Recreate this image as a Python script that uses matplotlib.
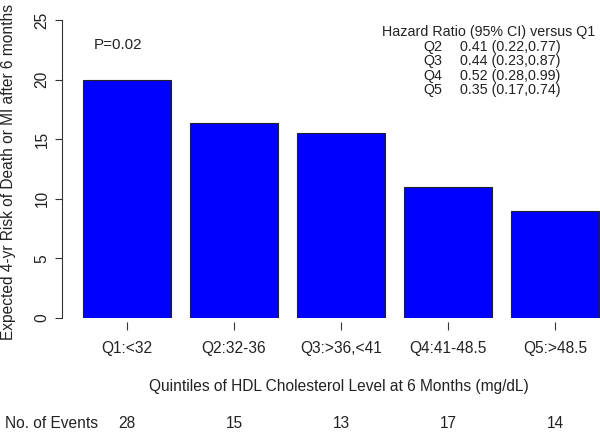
import matplotlib
matplotlib.use("Agg")
import matplotlib.pyplot as plt

plt.rcParams["font.family"] = ["Liberation Sans", "DejaVu Sans"]

quintiles = ["Q1:<32", "Q2:32-36", "Q3:>36,<41", "Q4:41-48.5", "Q5:>48.5"]
risk = [20.0, 16.4, 15.5, 11.0, 9.0]
events = [28, 15, 13, 17, 14]
hr_labels = ["Q2", "Q3", "Q4", "Q5"]
hr_text = ["0.41 (0.22,0.77)", "0.44 (0.23,0.87)", "0.52 (0.28,0.99)", "0.35 (0.17,0.74)"]
y_ticks = [0, 5, 10, 15, 20, 25]

W, H = 600, 432
TXT = "#222222"
FS = 11.2


def fx(px):
    return px / W


def fy(py):
    return 1 - py / H


fig = plt.figure(figsize=(6, 4.32), dpi=100)
# axes placed in pixel terms to mimic the R base-graphics layout
ax = fig.add_axes([fx(62), fy(318), (600 - 62) / W, (318 - 20) / H])

x = list(range(len(quintiles)))
ax.bar(x, risk, width=0.83, color="#0000FF", edgecolor="#222222", linewidth=0.8)
ax.set_xlim(-0.607, 4.42)
ax.set_ylim(0, 25)

for s in ["top", "right", "bottom"]:
    ax.spines[s].set_visible(False)
ax.spines["bottom"].set_position(("outward", 3))
ax.spines["left"].set_color("#333333")
ax.spines["left"].set_bounds(0, 25)

ax.set_yticks(y_ticks)
ax.set_yticklabels([str(t) for t in y_ticks], rotation=90, va="center", fontsize=FS, color=TXT)
ax.tick_params(axis="y", length=5, width=0.8, color="#333333", pad=4)

ax.set_xticks(x)
ax.set_xticklabels(quintiles, fontsize=FS, color=TXT)
ax.tick_params(axis="x", length=5.8, width=0.8, color="#333333", pad=8)

ax.set_ylabel("Expected 4-yr Risk of Death or MI after 6 months", fontsize=FS, color=TXT)
ax.yaxis.set_label_coords(-46 / 538, (318 - 172) / 298)

fig.text(fx(118), fy(45), "P=0.02", ha="center", va="center", fontsize=10.9, color=TXT)

fig.text(fx(382), fy(32), "Hazard Ratio (95% CI) versus Q1", ha="left", va="center", fontsize=10.3, color=TXT)
for i, (q, t) in enumerate(zip(hr_labels, hr_text)):
    yy = 32 + 14.6 * (i + 1)
    fig.text(fx(423), fy(yy), q, ha="left", va="center", fontsize=10.3, color=TXT)
    fig.text(fx(460), fy(yy), t, ha="left", va="center", fontsize=10.3, color=TXT)

fig.text(fx(339), fy(386), "Quintiles of HDL Cholesterol Level at 6 Months (mg/dL)",
         ha="center", va="center", fontsize=FS, color=TXT)

fig.text(fx(5), fy(424), "No. of Events", ha="left", va="center", fontsize=FS, color=TXT)
for xi, n in zip(x, events):
    ax.annotate(str(n), xy=(xi, 0), xycoords="data", xytext=(0, -(424 - 318)),
                textcoords="offset pixels", ha="center", va="center", fontsize=FS, color=TXT,
                annotation_clip=False)

fig.savefig("out.png", dpi=100)
